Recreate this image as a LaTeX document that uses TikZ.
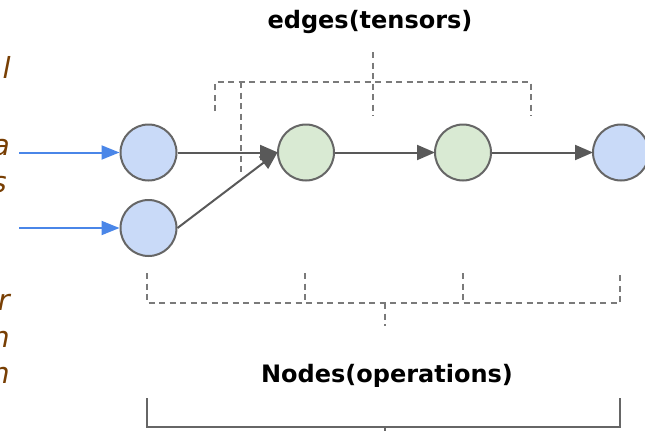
\documentclass[tikz,border=0pt]{standalone}
\usepackage{fontspec}
\setmainfont{DejaVu Sans}
\usetikzlibrary{arrows.meta}

\definecolor{opblue}{HTML}{C9DAF8}
\definecolor{opgreen}{HTML}{D9EAD3}
\definecolor{rim}{HTML}{666666}
\definecolor{flowgray}{HTML}{595959}
\definecolor{feedblue}{HTML}{4A86E8}
\definecolor{bracketgray}{HTML}{7A7A7A}
\definecolor{notebrown}{HTML}{783F04}

\tikzset{
  op/.style={circle, draw=rim, line width=2pt, minimum size=56pt, inner sep=0pt},
  inop/.style={op, fill=opblue},
  midop/.style={op, fill=opgreen},
  flow/.style={draw=flowgray, line width=2pt,
    -{Triangle[length=18pt,width=15pt]}, shorten >=-1pt},
  feed/.style={draw=feedblue, line width=2pt,
    -{Triangle[length=18pt,width=14pt]}},
  dashbracket/.style={draw=bracketgray, line width=1.8pt,
    dash pattern=on 6pt off 4.5pt},
  solidbracket/.style={draw=rim, line width=2pt},
  heading/.style={font=\bfseries\fontsize{24}{28}\selectfont, text=black,
    inner sep=0pt, anchor=base},
  note/.style={font=\itshape\fontsize{29}{34}\selectfont, text=notebrown,
    inner sep=0pt, anchor=base east}
}

\begin{document}
\begin{tikzpicture}[x=1pt, y=-1pt]
\useasboundingbox (0,0) rectangle (645,431);

% margin notes (trailing letters)
\node[note] (n1) at (11,78) {l};
\node[note] (n2) at (10,155) {a};
\node[note] (n3) at (7,192) {s};
\node[note] (n4) at (10,310) {r};
\node[note] (n5) at (10,347) {n};
\node[note] (n6) at (10,383) {n};

% operation nodes
\node[inop]  (in1) at (148.5,152.5) {};
\node[inop]  (in2) at (148.5,228) {};
\node[midop] (m1)  at (306,152.5) {};
\node[midop] (m2)  at (463,152.5) {};
\node[inop]  (out) at (621,152.5) {};

% external inputs
\coordinate (s1) at (19,152.5);
\coordinate (s2) at (19,228);
\draw[feed] (s1) -- (in1.west);
\draw[feed] (s2) -- (in2.west);

% tensor edges
\draw[flow] (in1.east) -- (m1.west);
\draw[flow] (in2.east) -- (m1.west);
\draw[flow] (m1.east) -- (m2.west);
\draw[flow] (m2.east) -- (out.west);

% edges bracket
\coordinate (e0) at (373,52);
\coordinate (e1) at (373,82);
\draw[dashbracket] (215,111) -- (215,82) -- (531,82) -- (531,116);
\draw[dashbracket] (241,82) -- (241,172);
\draw[dashbracket] (e0) -- (e1) -- (373,116);
\node[heading] (edges) at (370,28) {edges(tensors)};

% nodes bracket (dashed)
\draw[dashbracket] (147,273) -- (147,303) -- (620,303) -- (620,273);
\draw[dashbracket] (305,273) -- (305,303);
\draw[dashbracket] (463,273) -- (463,303);
\draw[dashbracket] (385,303) -- (385,326);
\node[heading] (nodes) at (387,382) {Nodes(operations)};

% nodes bracket (solid)
\draw[solidbracket] (147,398) -- (147,427) -- (620,427) -- (620,398);
\draw[solidbracket] (385,427) -- (385,431);
\end{tikzpicture}
\end{document}
